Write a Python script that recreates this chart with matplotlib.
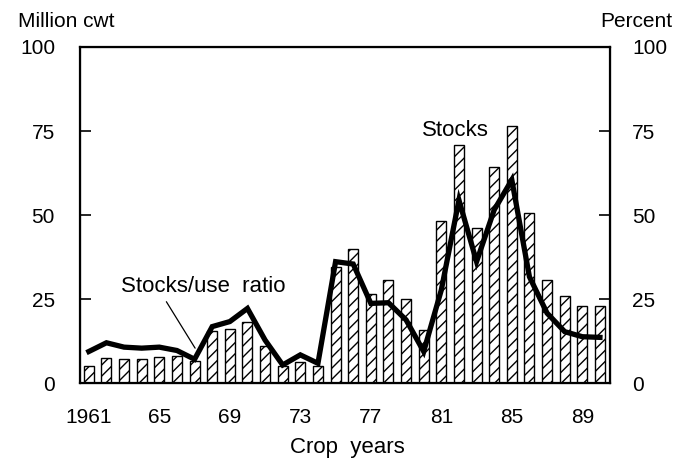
import numpy as np
import matplotlib
matplotlib.use("Agg")
import matplotlib.pyplot as plt

plt.rcParams['font.family'] = ['Liberation Sans', 'DejaVu Sans']
plt.rcParams['hatch.linewidth'] = 1.0

# crop years 1961-1990
years = list(range(1961, 1991))
# ending stocks, million cwt (bars)
stocks = [5.2, 7.7, 7.2, 7.3, 8.0, 8.3, 6.8, 15.6, 16.1, 18.4,
          11.2, 5.3, 6.5, 5.3, 34.5, 39.9, 26.5, 30.8, 25.1, 15.9,
          48.3, 70.8, 46.1, 64.2, 76.5, 50.8, 30.8, 26.0, 23.0, 23.0]
# stocks/use ratio, percent (line)
ratio = [9.5, 12.1, 10.8, 10.5, 10.8, 9.8, 7.2, 16.9, 18.4, 22.3,
         12.9, 5.5, 8.5, 6.0, 36.2, 35.5, 23.8, 24.0, 18.9, 9.5,
         27.8, 54.5, 36.2, 51.6, 60.5, 31.7, 20.9, 15.4, 13.9, 13.7]
xtick_years = [1961, 1965, 1969, 1973, 1977, 1981, 1985, 1989]
xtick_labels = ["1961", "65", "69", "73", "77", "81", "85", "89"]
yticks = [0, 25, 50, 75, 100]

fig = plt.figure(figsize=(6.85, 4.58), dpi=100)
ax = fig.add_axes([0.1168, 0.1627, 0.7737, 0.7347])

ax.bar(years, stocks, width=0.57, color="white", edgecolor="black",
       linewidth=1.0, hatch="///", zorder=2)
ax.plot(years, ratio, color="black", linewidth=3.8, solid_joinstyle="miter",
        zorder=3)

ax.set_xlim(1960.5, 1990.57)
ax.set_ylim(0, 100)
ax.set_yticks(yticks)
ax.set_xticks(xtick_years)
ax.set_xticklabels(xtick_labels)

for s in ax.spines.values():
    s.set_linewidth(1.6)

ax.tick_params(axis="y", direction="in", length=8, width=1.2,
               labelsize=15, pad=18)
ax.tick_params(axis="x", length=0, labelsize=15, pad=18)

ax2 = ax.twinx()
ax2.set_ylim(0, 100)
ax2.set_yticks(yticks)
ax2.tick_params(axis="y", direction="in", length=8, width=1.2,
                labelsize=15, pad=16)

fig.text(0.507, 0.024, "Crop  years", fontsize=16, ha="center", va="center")
fig.text(0.026, 0.952, "Million cwt", fontsize=15, ha="left", va="center")
fig.text(0.981, 0.952, "Percent", fontsize=15, ha="right", va="center")

ax.text(1981.8, 75.3, "Stocks", fontsize=16, ha="center", va="center",
        zorder=4)
ax.text(1967.5, 28.7, "Stocks/use  ratio", fontsize=16, ha="center",
        va="center", zorder=4)
# leader line from label to the line
ax.annotate("", xy=(1967.03, 10.5), xytext=(1965.4, 24.3),
            arrowprops=dict(arrowstyle="-", color="black", linewidth=0.9,
                            shrinkA=0, shrinkB=0))

fig.savefig("out.png", dpi=100)
